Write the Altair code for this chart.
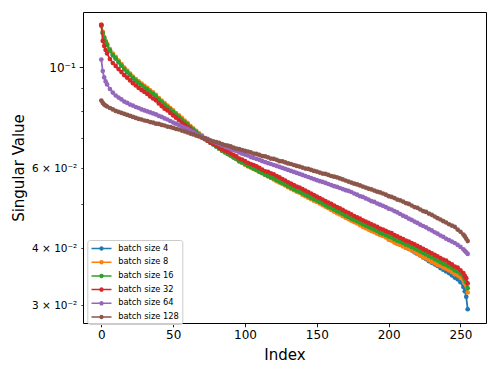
import altair as alt
import pandas as pd

# x positions (dense at both ends)
index = [0, 1, 2, 3] + list(range(4, 253, 2)) + [253, 254, 255]

series_names = ["batch size 4", "batch size 8", "batch size 16",
                "batch size 32", "batch size 64", "batch size 128"]
colors = ["#1f77b4", "#ff7f0e", "#2ca02c", "#d62728", "#9467bd", "#8c564b"]

bs4 = [0.1236, 0.1190, 0.1160, 0.1137,
       0.1120, 0.1089, 0.1064, 0.1046, 0.1027, 0.1009, 0.0991, 0.0976, 0.0962, 0.0947,
       0.0935, 0.0924, 0.0914, 0.0903, 0.0894, 0.0883, 0.0874, 0.0863, 0.0850, 0.0839,
       0.0828, 0.0818, 0.0808, 0.0798, 0.0787, 0.0778, 0.0768, 0.0758, 0.0749, 0.0739,
       0.0730, 0.0721, 0.0712, 0.0705, 0.0697, 0.0690, 0.0683, 0.0677, 0.0670, 0.0663,
       0.0656, 0.0651, 0.0645, 0.0640, 0.0634, 0.0629, 0.0622, 0.0618, 0.0613, 0.0608,
       0.0604, 0.0599, 0.0595, 0.0590, 0.0586, 0.0581, 0.0577, 0.0573, 0.0570, 0.0565,
       0.0561, 0.0557, 0.0553, 0.0548, 0.0544, 0.0540, 0.0536, 0.0533, 0.0529, 0.0525,
       0.0521, 0.0517, 0.0513, 0.0510, 0.0506, 0.0502, 0.0498, 0.0494, 0.0491, 0.0487,
       0.0483, 0.0480, 0.0476, 0.0471, 0.0468, 0.0463, 0.0460, 0.0457, 0.0454, 0.0449,
       0.0446, 0.0443, 0.0440, 0.0437, 0.0433, 0.0429, 0.0427, 0.0424, 0.0421, 0.0418,
       0.0414, 0.0411, 0.0408, 0.0405, 0.0402, 0.0399, 0.0396, 0.0392, 0.0389, 0.0386,
       0.0382, 0.0379, 0.0375, 0.0372, 0.0369, 0.0366, 0.0362, 0.0359, 0.0356, 0.0353,
       0.0349, 0.0345, 0.0342, 0.0337, 0.0329,
       0.0322, 0.0313, 0.0294]

bs8 = [0.1239, 0.1196, 0.1166, 0.1143,
       0.1126, 0.1097, 0.1072, 0.1054, 0.1035, 0.1017, 0.0999, 0.0983, 0.0969, 0.0954,
       0.0942, 0.0931, 0.0921, 0.0910, 0.0901, 0.0890, 0.0881, 0.0870, 0.0856, 0.0845,
       0.0834, 0.0824, 0.0814, 0.0804, 0.0793, 0.0784, 0.0774, 0.0764, 0.0755, 0.0743,
       0.0734, 0.0725, 0.0716, 0.0709, 0.0699, 0.0692, 0.0685, 0.0679, 0.0672, 0.0663,
       0.0656, 0.0651, 0.0645, 0.0640, 0.0634, 0.0629, 0.0622, 0.0618, 0.0611, 0.0606,
       0.0602, 0.0598, 0.0594, 0.0589, 0.0585, 0.0580, 0.0576, 0.0572, 0.0567, 0.0562,
       0.0558, 0.0554, 0.0550, 0.0545, 0.0541, 0.0537, 0.0533, 0.0530, 0.0525, 0.0521,
       0.0517, 0.0513, 0.0509, 0.0506, 0.0502, 0.0498, 0.0494, 0.0490, 0.0486, 0.0482,
       0.0478, 0.0475, 0.0471, 0.0467, 0.0464, 0.0460, 0.0457, 0.0454, 0.0450, 0.0446,
       0.0443, 0.0440, 0.0437, 0.0434, 0.0431, 0.0428, 0.0426, 0.0423, 0.0418, 0.0416,
       0.0412, 0.0409, 0.0407, 0.0404, 0.0401, 0.0399, 0.0396, 0.0393, 0.0389, 0.0386,
       0.0383, 0.0380, 0.0377, 0.0374, 0.0371, 0.0368, 0.0366, 0.0363, 0.0361, 0.0358,
       0.0355, 0.0351, 0.0349, 0.0345, 0.0340,
       0.0335, 0.0331, 0.0320]

bs16 = [0.1236, 0.1190, 0.1160, 0.1137,
        0.1120, 0.1089, 0.1064, 0.1046, 0.1027, 0.1009, 0.0991, 0.0976, 0.0962, 0.0947,
        0.0935, 0.0924, 0.0914, 0.0903, 0.0894, 0.0883, 0.0874, 0.0863, 0.0850, 0.0839,
        0.0828, 0.0818, 0.0808, 0.0798, 0.0787, 0.0778, 0.0768, 0.0758, 0.0749, 0.0739,
        0.0730, 0.0721, 0.0712, 0.0705, 0.0697, 0.0690, 0.0683, 0.0677, 0.0670, 0.0663,
        0.0656, 0.0651, 0.0645, 0.0640, 0.0634, 0.0629, 0.0622, 0.0618, 0.0613, 0.0608,
        0.0604, 0.0599, 0.0595, 0.0590, 0.0586, 0.0581, 0.0577, 0.0573, 0.0570, 0.0565,
        0.0561, 0.0557, 0.0553, 0.0548, 0.0544, 0.0540, 0.0536, 0.0533, 0.0529, 0.0525,
        0.0521, 0.0517, 0.0513, 0.0510, 0.0506, 0.0502, 0.0498, 0.0494, 0.0491, 0.0487,
        0.0483, 0.0480, 0.0476, 0.0472, 0.0469, 0.0465, 0.0462, 0.0459, 0.0456, 0.0452,
        0.0449, 0.0446, 0.0443, 0.0440, 0.0437, 0.0433, 0.0431, 0.0428, 0.0425, 0.0423,
        0.0419, 0.0416, 0.0414, 0.0411, 0.0408, 0.0406, 0.0403, 0.0400, 0.0397, 0.0394,
        0.0391, 0.0388, 0.0385, 0.0382, 0.0379, 0.0376, 0.0373, 0.0370, 0.0368, 0.0365,
        0.0362, 0.0358, 0.0356, 0.0352, 0.0347,
        0.0342, 0.0337, 0.0327]

bs32 = [0.1240, 0.1143, 0.1114, 0.1092,
        0.1073, 0.1043, 0.1022, 0.1007, 0.0991, 0.0976, 0.0961, 0.0949, 0.0936, 0.0923,
        0.0912, 0.0901, 0.0891, 0.0883, 0.0874, 0.0863, 0.0854, 0.0846, 0.0833, 0.0822,
        0.0811, 0.0804, 0.0794, 0.0784, 0.0775, 0.0766, 0.0756, 0.0748, 0.0740, 0.0732,
        0.0723, 0.0716, 0.0707, 0.0701, 0.0695, 0.0690, 0.0683, 0.0679, 0.0673, 0.0666,
        0.0661, 0.0656, 0.0652, 0.0647, 0.0642, 0.0637, 0.0630, 0.0627, 0.0622, 0.0617,
        0.0613, 0.0610, 0.0606, 0.0601, 0.0596, 0.0591, 0.0589, 0.0585, 0.0582, 0.0577,
        0.0573, 0.0568, 0.0564, 0.0559, 0.0555, 0.0551, 0.0547, 0.0544, 0.0540, 0.0536,
        0.0532, 0.0528, 0.0524, 0.0520, 0.0516, 0.0512, 0.0508, 0.0504, 0.0501, 0.0497,
        0.0493, 0.0490, 0.0486, 0.0482, 0.0479, 0.0475, 0.0471, 0.0468, 0.0465, 0.0461,
        0.0458, 0.0455, 0.0452, 0.0449, 0.0446, 0.0442, 0.0440, 0.0437, 0.0434, 0.0432,
        0.0428, 0.0425, 0.0422, 0.0419, 0.0416, 0.0414, 0.0411, 0.0408, 0.0405, 0.0402,
        0.0399, 0.0396, 0.0393, 0.0390, 0.0387, 0.0384, 0.0381, 0.0378, 0.0376, 0.0372,
        0.0369, 0.0365, 0.0363, 0.0358, 0.0353,
        0.0348, 0.0344, 0.0335]

bs64 = [0.1040, 0.0981, 0.0950, 0.0931,
        0.0917, 0.0896, 0.0880, 0.0867, 0.0858, 0.0850, 0.0841, 0.0835, 0.0828, 0.0824,
        0.0818, 0.0814, 0.0808, 0.0804, 0.0800, 0.0796, 0.0792, 0.0788, 0.0782, 0.0778,
        0.0772, 0.0768, 0.0762, 0.0756, 0.0752, 0.0747, 0.0741, 0.0736, 0.0732, 0.0726,
        0.0721, 0.0715, 0.0710, 0.0705, 0.0699, 0.0696, 0.0690, 0.0687, 0.0682, 0.0678,
        0.0673, 0.0670, 0.0666, 0.0661, 0.0658, 0.0655, 0.0650, 0.0646, 0.0643, 0.0640,
        0.0635, 0.0632, 0.0629, 0.0626, 0.0622, 0.0619, 0.0616, 0.0613, 0.0610, 0.0607,
        0.0604, 0.0601, 0.0598, 0.0595, 0.0592, 0.0589, 0.0586, 0.0583, 0.0580, 0.0577,
        0.0574, 0.0571, 0.0568, 0.0565, 0.0562, 0.0560, 0.0557, 0.0554, 0.0551, 0.0548,
        0.0546, 0.0543, 0.0540, 0.0537, 0.0535, 0.0532, 0.0528, 0.0525, 0.0521, 0.0519,
        0.0515, 0.0512, 0.0508, 0.0506, 0.0502, 0.0499, 0.0496, 0.0493, 0.0489, 0.0487,
        0.0483, 0.0480, 0.0476, 0.0472, 0.0469, 0.0465, 0.0462, 0.0458, 0.0455, 0.0451,
        0.0448, 0.0445, 0.0441, 0.0438, 0.0434, 0.0431, 0.0427, 0.0424, 0.0420, 0.0417,
        0.0414, 0.0411, 0.0407, 0.0403, 0.0398,
        0.0395, 0.0392, 0.0389]

bs128 = [0.0845, 0.0835, 0.0828, 0.0824,
         0.0820, 0.0814, 0.0808, 0.0802, 0.0798, 0.0794, 0.0790, 0.0786, 0.0782, 0.0778,
         0.0774, 0.0770, 0.0768, 0.0764, 0.0762, 0.0758, 0.0756, 0.0752, 0.0751, 0.0747,
         0.0745, 0.0741, 0.0739, 0.0736, 0.0732, 0.0730, 0.0726, 0.0723, 0.0719, 0.0715,
         0.0712, 0.0708, 0.0705, 0.0701, 0.0698, 0.0694, 0.0690, 0.0687, 0.0685, 0.0682,
         0.0678, 0.0675, 0.0673, 0.0670, 0.0666, 0.0663, 0.0661, 0.0658, 0.0655, 0.0653,
         0.0650, 0.0646, 0.0645, 0.0642, 0.0638, 0.0637, 0.0634, 0.0630, 0.0629, 0.0626,
         0.0622, 0.0621, 0.0618, 0.0615, 0.0613, 0.0610, 0.0607, 0.0605, 0.0602, 0.0599,
         0.0598, 0.0595, 0.0592, 0.0590, 0.0587, 0.0584, 0.0583, 0.0580, 0.0577, 0.0575,
         0.0573, 0.0570, 0.0567, 0.0564, 0.0561, 0.0558, 0.0555, 0.0553, 0.0550, 0.0547,
         0.0544, 0.0541, 0.0539, 0.0536, 0.0533, 0.0531, 0.0528, 0.0525, 0.0521, 0.0519,
         0.0516, 0.0512, 0.0510, 0.0507, 0.0503, 0.0501, 0.0497, 0.0493, 0.0491, 0.0487,
         0.0483, 0.0481, 0.0477, 0.0474, 0.0470, 0.0466, 0.0463, 0.0459, 0.0456, 0.0452,
         0.0449, 0.0446, 0.0440, 0.0435, 0.0429,
         0.0425, 0.0420, 0.0415]

all_series = [bs4, bs8, bs16, bs32, bs64, bs128]
for s in all_series:
    assert len(s) == len(index), (len(s), len(index))

rows = []
for name, vals in zip(series_names, all_series):
    for i, v in zip(index, vals):
        rows.append({"index": i, "value": v, "series": name})
df = pd.DataFrame(rows)

FONT = "DejaVu Sans"
major = "abs(datum.value - 0.1) < 1e-9"
label_expr = ("abs(datum.value - 0.1) < 1e-9 ? '10⁻¹' : "
              "abs(datum.value - 0.06) < 1e-9 ? '6 × 10⁻²' : "
              "abs(datum.value - 0.04) < 1e-9 ? '4 × 10⁻²' : "
              "abs(datum.value - 0.03) < 1e-9 ? '3 × 10⁻²' : ''")

x_enc = alt.X(
    "index:Q",
    title="Index",
    scale=alt.Scale(domain=[-12.75, 267.75], nice=False, zero=False),
    axis=alt.Axis(values=[0, 50, 100, 150, 200, 250], format="d",
                  labelFont=FONT, labelFontSize=12, labelColor="black",
                  labelPadding=3, tickSize=3.8, tickWidth=0.9, tickColor="black",
                  domain=False, grid=False,
                  titleFont=FONT, titleFontSize=15, titleFontWeight="normal",
                  titleColor="black", titleY=31, titleBaseline="middle"),
)
y_enc = alt.Y(
    "value:Q",
    title="Singular Value",
    scale=alt.Scale(type="log", domain=[0.02742, 0.1323], nice=False),
    axis=alt.Axis(values=[0.03, 0.04, 0.05, 0.06, 0.07, 0.08, 0.09, 0.1],
                  labelExpr=label_expr,
                  labelFont=FONT, labelColor="black", labelPadding=4,
                  labelFontSize={"condition": {"test": major, "value": 12}, "value": 10.5},
                  tickSize={"condition": {"test": major, "value": 3.8}, "value": 2.2},
                  tickWidth={"condition": {"test": major, "value": 0.9}, "value": 0.7},
                  tickColor="black", domain=False, grid=False,
                  titleFont=FONT, titleFontSize=15, titleFontWeight="normal",
                  titleColor="black", titleAngle=-90, titleX=-65, titleY=155.5,
                  titleAlign="center", titleBaseline="middle"),
)
color_enc = alt.Color(
    "series:N",
    scale=alt.Scale(domain=series_names, range=colors),
    legend=alt.Legend(
        title=None, orient="none", legendX=4.3, legendY=228,
        symbolType="M-2,0L2,0M-0.3,0A0.3,0.3 0 1,0 0.3,0A0.3,0.3 0 1,0 -0.3,0",
        symbolSize=100, symbolStrokeWidth=1.5, symbolOffset=5.7,
        labelOffset=10.7, labelFont=FONT, labelFontSize=8.3, labelColor="black",
        labelLimit=200, padding=2.5, rowPadding=2.7,
        fillColor="rgba(255,255,255,0.8)", strokeColor="#cccccc", cornerRadius=2.5,
    ),
)

layers = []
for name in series_names:
    layers.append(
        alt.Chart(df)
        .transform_filter(alt.datum.series == name)
        .mark_line(strokeWidth=1.8,
                   point=alt.OverlayMarkDef(filled=True, size=22, opacity=1))
        .encode(x=x_enc, y=y_enc, color=color_enc)
    )

chart = (
    alt.layer(*layers)
    .properties(width=403, height=311,
                autosize=alt.AutoSizeParams(type="none"),
                padding={"left": 75, "top": 4, "right": 4, "bottom": 43},
                background="white")
    .configure_view(stroke="black", strokeWidth=1)
)

chart.save("out.html", embed_options={"renderer": "svg", "actions": False})
